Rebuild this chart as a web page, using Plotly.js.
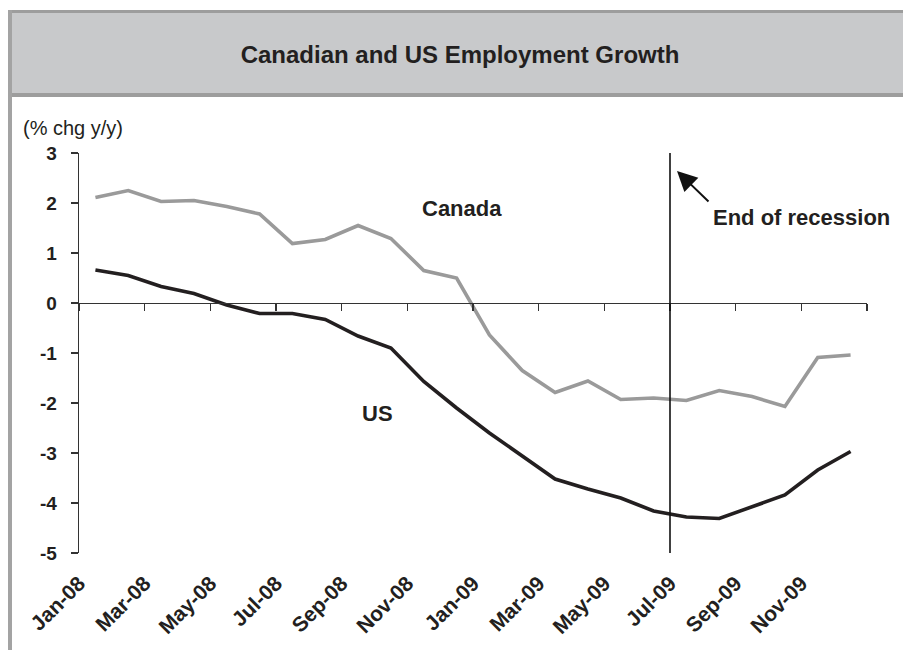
<!DOCTYPE html>
<html>
<head>
<meta charset="utf-8">
<script src="https://cdn.plot.ly/plotly-3.0.1.min.js"></script>
<style>html,body{margin:0;padding:0;background:#fff;}#chart{width:903px;height:650px;}</style>
</head>
<body>
<div id="chart"></div>
<script>
// ---- data ----
const months = ['Jan-08','Feb-08','Mar-08','Apr-08','May-08','Jun-08','Jul-08','Aug-08','Sep-08','Oct-08','Nov-08','Dec-08',
                'Jan-09','Feb-09','Mar-09','Apr-09','May-09','Jun-09','Jul-09','Aug-09','Sep-09','Oct-09','Nov-09','Dec-09'];
const canada = [2.11,2.25,2.03,2.05,1.93,1.78,1.19,1.27,1.55,1.29,0.65,0.50,
                -0.64,-1.35,-1.79,-1.56,-1.93,-1.90,-1.95,-1.75,-1.87,-2.07,-1.09,-1.04];
const us = [0.66,0.55,0.33,0.19,-0.04,-0.21,-0.21,-0.33,-0.66,-0.90,-1.57,-2.10,
            -2.60,-3.05,-3.52,-3.72,-3.90,-4.16,-4.28,-4.31,-4.07,-3.84,-3.34,-2.97];
const yTicks = [-5,-4,-3,-2,-1,0,1,2,3];
const recessionEnd = 'Jul-09';

// ---- layout geometry ----
const W = 903, H = 650;
const ML = 79, MR = 36, MT = 153, MB = 97;
const PW = W - ML - MR, PH = H - MT - MB;
const PX = p => (p - ML) / PW;
const PY = p => (MT + PH - p) / PH;
const FONT = 'Liberation Sans, Arial, Helvetica, sans-serif';
const INK = '#231f20';

const idx = months.map((m, i) => i);
const labelIdx = idx.filter(i => i % 2 === 0);
const labelVals = labelIdx.map(i => i - 0.5);
const labelText = labelIdx.map(i => months[i]);
const tickVals = labelVals.concat([months.length - 0.5]);
const yMin = Math.min(...yTicks), yMax = Math.max(...yTicks);
const zeroPos = (0 - yMin) / (yMax - yMin);
const xRecession = months.indexOf(recessionEnd) - 0.5;
const xRange = [-0.5, months.length - 0.5];

const traces = [
  {x: idx, y: canada, name: 'Canada', type: 'scatter', mode: 'lines', xaxis: 'x', yaxis: 'y',
   line: {color: '#9a9a9a', width: 3.6}, hoverinfo: 'skip'},
  {x: idx, y: us, name: 'US', type: 'scatter', mode: 'lines', xaxis: 'x2', yaxis: 'y',
   line: {color: INK, width: 3.6}, hoverinfo: 'skip'}
];

const layout = {
  width: W, height: H,
  margin: {l: ML, r: MR, t: MT, b: MB},
  paper_bgcolor: '#ffffff', plot_bgcolor: 'rgba(0,0,0,0)',
  showlegend: false,
  font: {family: FONT, color: INK},
  title: {text: '<b>Canadian and US Employment Growth</b>', xref: 'container', yref: 'container',
          x: 460 / W, y: 1 - 55 / H, xanchor: 'center', yanchor: 'middle',
          font: {family: FONT, size: 24, color: INK}},
  // category labels along the bottom
  xaxis: {range: xRange, tickmode: 'array', tickvals: labelVals, ticktext: labelText,
          tickangle: -45, ticks: '', showline: false, showgrid: false, zeroline: false,
          ticklabelstandoff: 13,
          tickfont: {family: FONT, size: 21, weight: 'bold', color: INK}},
  // axis line with tick marks crossing at zero
  xaxis2: {overlaying: 'x', anchor: 'free', position: zeroPos, side: 'bottom',
           range: xRange, tickmode: 'array', tickvals: tickVals,
           ticks: 'outside', ticklen: 7, tickwidth: 1.3, tickcolor: '#333',
           showline: true, linecolor: '#333', linewidth: 1.3,
           showticklabels: false, showgrid: false, zeroline: false},
  yaxis: {range: [yMin, yMax], tickmode: 'array', tickvals: yTicks, ticktext: yTicks.map(String),
          ticks: 'outside', ticklen: 7, tickwidth: 1.3, tickcolor: '#333',
          showline: true, linecolor: '#333', linewidth: 1.3, showgrid: false, zeroline: false,
          ticklabelstandoff: 10,
          tickfont: {family: FONT, size: 19, weight: 'bold', color: INK}},
  shapes: [
    {type: 'rect', xref: 'paper', yref: 'paper', x0: PX(12), x1: PX(W), y0: PY(93), y1: PY(13),
     fillcolor: '#c8c9cb', line: {width: 0}, layer: 'below'},
    {type: 'rect', xref: 'paper', yref: 'paper', x0: PX(8), x1: PX(W), y0: PY(13), y1: PY(10),
     fillcolor: '#9d9d9d', line: {width: 0}, layer: 'below'},
    {type: 'rect', xref: 'paper', yref: 'paper', x0: PX(12), x1: PX(W), y0: PY(97), y1: PY(93),
     fillcolor: '#9d9d9d', line: {width: 0}, layer: 'below'},
    {type: 'rect', xref: 'paper', yref: 'paper', x0: PX(8), x1: PX(12), y0: PY(H), y1: PY(10),
     fillcolor: '#a3a3a3', line: {width: 0}, layer: 'below'},
    {type: 'line', xref: 'x', yref: 'paper', x0: xRecession, x1: xRecession, y0: 0, y1: 1,
     line: {color: '#111', width: 1.6}}
  ],
  annotations: [
    {text: '(% chg y/y)', xref: 'paper', yref: 'paper', x: PX(21), y: PY(128), xanchor: 'left', yanchor: 'middle',
     showarrow: false, font: {family: FONT, size: 20, color: INK}},
    {text: '<b>Canada</b>', xref: 'paper', yref: 'paper', x: PX(462), y: PY(208), xanchor: 'center', yanchor: 'middle',
     showarrow: false, font: {family: FONT, size: 22, color: INK}},
    {text: '<b>US</b>', xref: 'paper', yref: 'paper', x: PX(377), y: PY(413), xanchor: 'center', yanchor: 'middle',
     showarrow: false, font: {family: FONT, size: 22, color: INK}},
    {text: '<b>End of recession</b>', xref: 'paper', yref: 'paper', x: PX(801), y: PY(217), xanchor: 'center', yanchor: 'middle',
     showarrow: false, font: {family: FONT, size: 22, color: INK}},
    {text: '', xref: 'paper', yref: 'paper', x: PX(677), y: PY(171), ax: 33, ay: 32,
     showarrow: true, arrowhead: 2, arrowsize: 2, arrowwidth: 2, arrowcolor: '#111'}
  ]
};

Plotly.newPlot('chart', traces, layout, {staticPlot: true, displayModeBar: false});
</script>
</body>
</html>
